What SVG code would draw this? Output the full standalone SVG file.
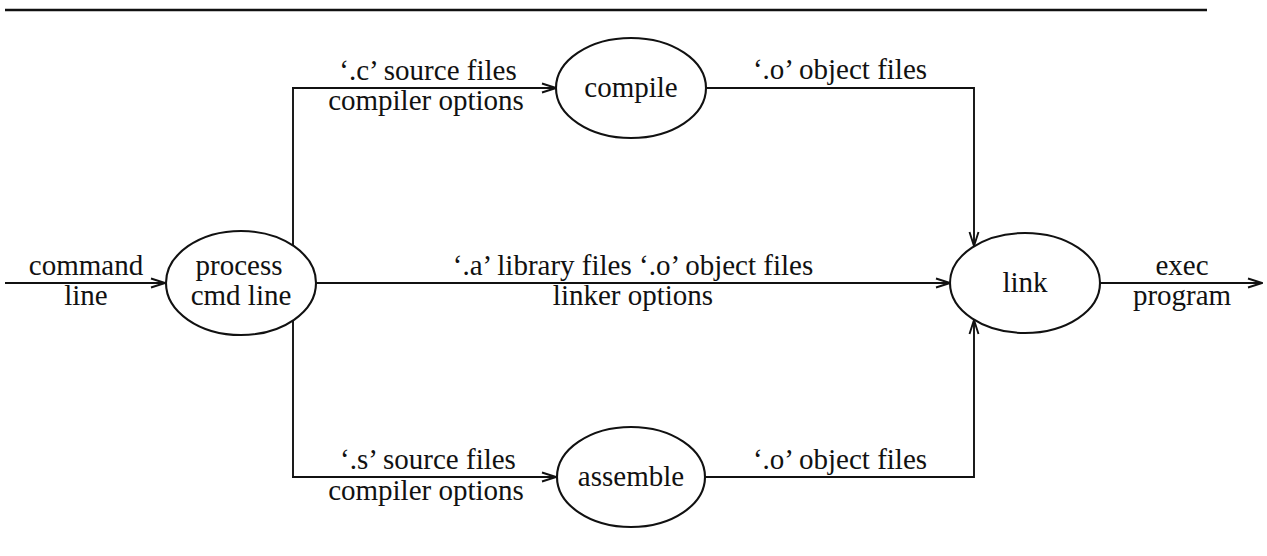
<svg xmlns="http://www.w3.org/2000/svg" width="1267" height="556" viewBox="0 0 1267 556">
  <style>
    .node { fill: #ffffff; stroke: #111111; stroke-width: 2.1; }
    .edge { fill: none; stroke: #111111; stroke-width: 1.9; }
    .rule { stroke: #111111; stroke-width: 2.6; }
    text { font-family: "Liberation Serif", "DejaVu Serif", serif; font-size: 29px; fill: #111111; text-anchor: middle; }
  </style>
  <defs>
    <marker id="arrow" viewBox="0 0 16 12" refX="15" refY="6" markerWidth="16" markerHeight="12" markerUnits="userSpaceOnUse" orient="auto">
      <path d="M1,1.5 L15,6 L1,10.5" fill="none" stroke="#111111" stroke-width="1.9"/>
    </marker>
  </defs>

  <rect x="0" y="0" width="1267" height="556" fill="#ffffff"/>
  <line class="rule" x1="5" y1="10" x2="1207" y2="10"/>

  <!-- connectors -->
  <g id="connectors">
    <line class="edge" x1="5" y1="283" x2="165" y2="283" marker-end="url(#arrow)"/>
    <line class="edge" x1="293" y1="88" x2="293" y2="246"/>
    <line class="edge" x1="293" y1="320" x2="293" y2="477"/>
    <line class="edge" x1="292" y1="88" x2="556" y2="88" marker-end="url(#arrow)"/>
    <line class="edge" x1="292" y1="477" x2="556" y2="477" marker-end="url(#arrow)"/>
    <line class="edge" x1="316" y1="283" x2="950" y2="283" marker-end="url(#arrow)"/>
    <polyline class="edge" points="706,88 974,88 974,246" marker-end="url(#arrow)"/>
    <polyline class="edge" points="705,477 974,477 974,320" marker-end="url(#arrow)"/>
    <line class="edge" x1="1100" y1="283" x2="1262" y2="283" marker-end="url(#arrow)"/>

    <text x="86" y="275">command</text>
    <text x="86" y="305">line</text>
    <text x="428" y="80">‘.c’ source files</text>
    <text x="426" y="110">compiler options</text>
    <text x="840" y="79">‘.o’ object files</text>
    <text x="633" y="275">‘.a’ library files ‘.o’ object files</text>
    <text x="633" y="305">linker options</text>
    <text x="428" y="469">‘.s’ source files</text>
    <text x="426" y="500">compiler options</text>
    <text x="840" y="469">‘.o’ object files</text>
    <text x="1182" y="275">exec</text>
    <text x="1182" y="305">program</text>
  </g>

  <g id="process">
    <ellipse class="node" cx="241" cy="283" rx="75" ry="52"/>
    <text x="239" y="275">process</text>
    <text x="241" y="305">cmd line</text>
  </g>

  <g id="compile">
    <ellipse class="node" cx="631" cy="88" rx="75" ry="50"/>
    <text x="631" y="97">compile</text>
  </g>

  <g id="assemble">
    <ellipse class="node" cx="631" cy="477" rx="74" ry="50"/>
    <text x="631" y="486">assemble</text>
  </g>

  <g id="link">
    <ellipse class="node" cx="1025" cy="283" rx="75" ry="50"/>
    <text x="1025" y="292">link</text>
  </g>
</svg>
